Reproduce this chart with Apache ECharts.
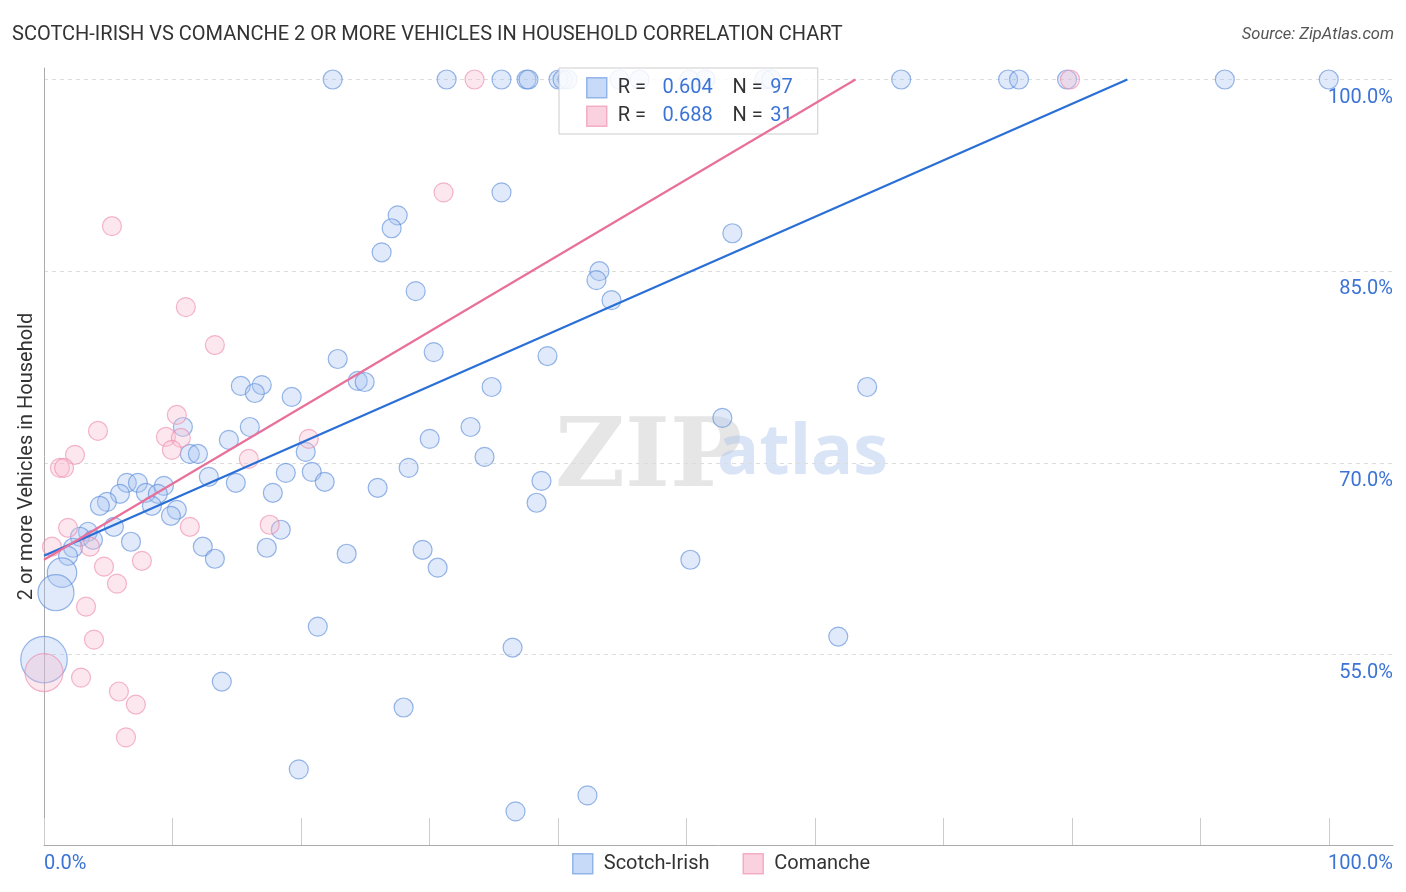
<!DOCTYPE html>
<html><head><meta charset="utf-8">
<script src="https://cdn.jsdelivr.net/npm/echarts@6/dist/echarts.min.js"></script>
<style>html,body{margin:0;padding:0;background:#fff}#c{width:1406px;height:892px}</style>
</head><body><div id="c"></div><script>
// [x %, y %, relative weight]
const scotchIrish = [
 [22.47,100,1],[31.34,100,1],[35.61,100,1],[37.56,100,1],[37.71,100,1],[40.05,100,1],[40.36,100,1],[40.75,100,1],
 [44.79,100,1],[46.35,100,1],[50.23,100,1],[51.48,100,1],[56.07,100,1],[56.61,100,1],[66.72,100,1],[75.04,100,1],
 [75.89,100,1],[79.63,100,1],[91.91,100,1],[100,100,1],
 [35.61,91.17,1],[27.53,89.37,1],[27.06,88.36,1],[53.58,87.97,1],[26.28,86.48,1],[43.23,85.0,1],[43.0,84.3,1],
 [28.93,83.44,1],[44.17,82.73,1],[30.33,78.67,1],[22.86,78.13,1],[39.19,78.36,1],[24.42,76.41,1],[24.96,76.33,1],
 [15.32,76.02,1],[16.95,76.09,1],[16.41,75.47,1],[34.84,75.94,1],[64.07,75.94,1],[19.28,75.16,1],[52.8,73.52,1],
 [16.02,72.81,1],[10.81,72.81,1],[33.2,72.81,1],[14.39,71.8,1],[30.02,71.88,1],[11.35,70.7,1],[11.98,70.7,1],
 [20.37,70.86,1],[34.29,70.47,1],[28.38,69.61,1],[18.82,69.22,1],[20.84,69.3,1],[12.83,68.91,1],[14.93,68.44,1],
 [21.85,68.52,1],[38.72,68.59,1],[6.45,68.44,1],[7.31,68.44,1],[9.33,68.2,1],[5.91,67.58,1],[7.93,67.66,1],
 [8.86,67.58,1],[17.81,67.66,1],[25.97,68.05,1],[4.9,66.95,1],[4.35,66.64,1],[8.4,66.64,1],[10.34,66.33,1],
 [9.88,65.86,1],[38.34,66.88,1],[5.44,65.0,1],[18.43,64.77,1],[3.42,64.61,1],[2.8,64.22,1],[3.81,63.98,1],
 [6.77,63.83,1],[2.26,63.36,1],[1.87,62.73,1],[12.36,63.44,1],[17.34,63.36,1],[29.47,63.2,1],[23.56,62.89,1],
 [13.3,62.5,1],[50.31,62.42,1],[30.64,61.8,1],[1.4,61.41,2.4],[0.93,59.84,3.6],[0,54.61,6],[21.31,57.19,1],
 [61.82,56.41,1],[36.47,55.55,1],[13.84,52.89,1],[27.99,50.86,1],[19.83,46.02,1],[42.3,43.98,1],[36.7,42.73,1]
];
const comanche = [
 [33.51,100,1],[79.86,100,1],[31.1,91.17,1],[5.29,88.52,1],[11.04,82.19,1],[13.3,79.22,1],[10.34,73.75,1],
 [9.49,72.03,1],[10.65,71.95,1],[4.2,72.5,1],[9.95,71.02,1],[2.41,70.63,1],[1.24,69.61,1],[1.56,69.61,1],
 [15.94,70.31,1],[20.61,71.88,1],[17.57,65.16,1],[11.35,65.0,1],[1.87,64.92,1],[0.62,63.44,1],[3.58,63.44,1],
 [4.67,61.88,1],[5.68,60.55,1],[7.62,62.34,1],[3.27,58.75,1],[3.89,56.17,1],[0,53.59,4],[2.88,53.2,1],
 [5.83,52.11,1],[7.15,51.09,1],[6.38,48.52,1]
];
const seriesNames = ['Scotch-Irish','Comanche'];
const stats = {'Scotch-Irish':{r:'0.604',n:'97'}, 'Comanche':{r:'0.688',n:'31'}};
// trend lines: [intercept at x=0, slope]
const scotchIrishTrend = [62.73, 0.442];
const comancheTrend = [62.42, 0.595];
const xTicks = [0,10,20,30,40,50,60,70,80,90,100];
const yTicks = [55,70,85,100];
const xEdgeLabels = ['0.0%','100.0%'];

const X_MAX = 105, Y_MIN = 40.1, Y_MAX = 100.9;
function trendLine(t){
  const xEnd = Math.min(X_MAX, (100 - t[0]) / t[1]);
  return [[0, t[0]], [xEnd, t[0] + t[1]*xEnd]];
}
const BLUE_LBL = '#3b73d6';
const legendIcons = {
  'Scotch-Irish': {icon:'rect', itemStyle:{color:'#b9d1f5', borderColor:'#7ea8e3', borderWidth:1.5}},
  'Comanche': {icon:'rect', itemStyle:{color:'#f9c6d6', borderColor:'#f0a0ba', borderWidth:1.5}}
};
const legendData = seriesNames.map(n => Object.assign({name:n}, legendIcons[n]));
const chart = echarts.init(document.getElementById('c'));
chart.setOption({
  animation:false,
  textStyle:{fontFamily:'Roboto, sans-serif'},
  title:[
    {text:'SCOTCH-IRISH VS COMANCHE 2 OR MORE VEHICLES IN HOUSEHOLD CORRELATION CHART', left:12, top:25, padding:0,
     textStyle:{fontSize:20, fontWeight:'normal', color:'#333'}},
    {text:'Source: ZipAtlas.com', right:12, top:26, padding:0,
     textStyle:{fontSize:16.5, fontWeight:'normal', fontStyle:'italic', color:'#555'}}
  ],
  grid:{left:44, right:13, top:68, bottom:47},
  legend:[
    {data:legendData, orient:'vertical', left:559, top:68, itemWidth:20, itemHeight:20, itemGap:7,
     padding:[9,25,7,27], borderColor:'#ccc', borderWidth:1, backgroundColor:'rgba(255,255,255,0.85)',
     selectedMode:false,
     formatter: n => '{a|R =}{b|' + stats[n].r + '}{c|N =}{d|' + stats[n].n + '}',
     textStyle:{fontSize:20, lineHeight:20, rich:{
        a:{fontSize:20, lineHeight:20, color:'#333', width:30, padding:[0,0,0,6]},
        b:{fontSize:20, lineHeight:20, color:BLUE_LBL, width:65, align:'right'},
        c:{fontSize:20, lineHeight:20, color:'#333', width:50, align:'right'},
        d:{fontSize:20, lineHeight:20, color:BLUE_LBL, width:30, align:'right'}}}},
    {data:legendData, orient:'horizontal', left:572, top:853, itemWidth:20, itemHeight:20, itemGap:33,
     padding:0, selectedMode:false,
     textStyle:{fontSize:20, lineHeight:20, color:'#333', padding:[0,0,0,6]}}
  ],
  xAxis:{type:'value', min:0, max:X_MAX, interval:10,
    axisLine:{lineStyle:{color:'#aaa', width:1}},
    axisTick:{inside:true, length:27, lineStyle:{color:'#ccc'}, customValues:xTicks},
    axisLabel:{customValues:[0, X_MAX], formatter: v => v === 0 ? xEdgeLabels[0] : xEdgeLabels[1],
      alignMinLabel:'left', alignMaxLabel:'right', color:BLUE_LBL, fontSize:20, margin:9},
    splitLine:{show:false}},
  yAxis:[
    {type:'value', min:Y_MIN, max:Y_MAX, position:'right',
     axisLine:{show:false}, axisTick:{show:false, customValues:yTicks},
     splitLine:{show:true, lineStyle:{type:[4,4], color:'#dcdcdc'}},
     axisLabel:{inside:true, margin:0, customValues:yTicks, formatter: v => v.toFixed(1) + '%',
       color:BLUE_LBL, fontSize:20, verticalAlign:'top', padding:[8,0,0,0]}},
    {type:'value', min:Y_MIN, max:Y_MAX, position:'left',
     axisLine:{show:true, lineStyle:{color:'#aaa'}}, axisTick:{show:false}, axisLabel:{show:false},
     splitLine:{show:false},
     name:'2 or more Vehicles in Household', nameLocation:'middle', nameGap:7,
     nameTextStyle:{fontSize:20, color:'#333'}}
  ],
  graphic:[
    {type:'text', left:555, top:413, z:-1, silent:true,
     style:{text:'ZIP', font:'bold 96px "DejaVu Serif", serif', fill:'rgba(200,200,200,0.45)'}},
    {type:'text', left:717, top:419, z:-1, silent:true,
     style:{text:'atlas', font:'bold 70px "Open Sans", sans-serif', fill:'rgba(170,195,235,0.45)'}}
  ],
  series:[
    {name:'Scotch-Irish', type:'scatter', data:scotchIrish, z:2,
     symbolSize: v => 19*Math.sqrt(v[2]),
     itemStyle:{color:'rgba(170,198,240,0.45)', borderColor:'rgba(85,135,215,0.75)', borderWidth:1.2}},
    {name:'Comanche', type:'scatter', data:comanche, z:2,
     symbolSize: v => 19*Math.sqrt(v[2]),
     itemStyle:{color:'rgba(248,188,208,0.45)', borderColor:'rgba(236,135,170,0.75)', borderWidth:1.2}},
    {name:'Scotch-Irish trend', type:'line', data:trendLine(scotchIrishTrend), z:5, symbol:'none',
     lineStyle:{color:'#2a6fd6', width:2.2}, silent:true},
    {name:'Comanche trend', type:'line', data:trendLine(comancheTrend), z:5, symbol:'none',
     lineStyle:{color:'#e8709a', width:2.2}, silent:true}
  ]
});
</script></body></html>
